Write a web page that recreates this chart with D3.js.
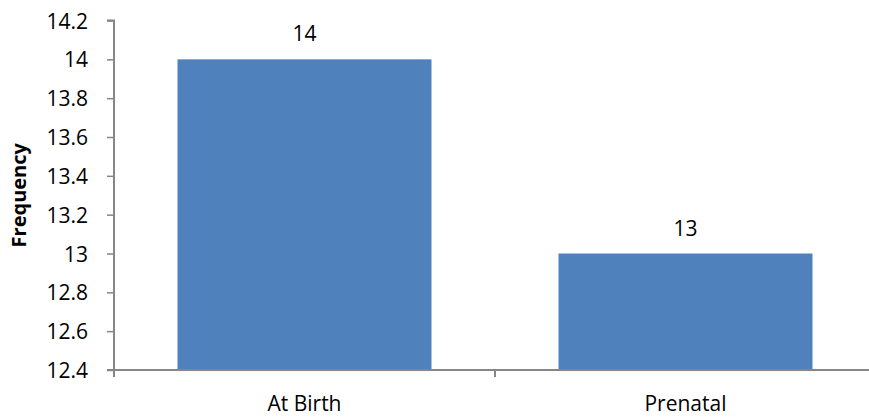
<!DOCTYPE html>
<html><head><meta charset="utf-8">
<script src="https://cdn.jsdelivr.net/npm/d3@7"></script>
<style>body{margin:0;background:#fff}svg{display:block}text{font-family:"Open Sans","Liberation Sans",sans-serif}</style>
</head><body><svg width="869" height="417"></svg>
<script>
const categories = ["At Birth", "Prenatal"];
const values = [14, 13];
const yTicks = [12.4, 12.6, 12.8, 13, 13.2, 13.4, 13.6, 13.8, 14, 14.2];
const yTitle = "Frequency";

const svg = d3.select("svg");
const x0 = 114, x1 = 876, yTop = 20.5, yBot = 370;
const x = d3.scaleBand().domain(categories).range([x0, x1]).paddingInner(1/3).paddingOuter(1/6);
const y = d3.scaleLinear().domain([12.4, 14.2]).range([yBot, yTop]);
const axisColor = "#868686";
const fs = "21px";

// bars
svg.selectAll("rect.bar").data(values).join("rect")
  .attr("x", (d, i) => x(categories[i])).attr("width", x.bandwidth())
  .attr("y", d => y(d)).attr("height", d => yBot - y(d))
  .attr("fill", "#4F81BD");

// y axis
const ya = svg.append("g").attr("transform", `translate(${x0},0)`)
  .call(d3.axisLeft(y).tickValues(yTicks).tickSize(7).tickPadding(19).tickFormat(d => d3.format("")(+d.toFixed(1))));
ya.select(".domain").attr("stroke", axisColor).attr("stroke-width", 2).attr("d", `M-7,${yTop}H0V${yBot}`);
ya.selectAll(".tick line").attr("stroke", axisColor).attr("stroke-width", 1.5);
ya.selectAll(".tick text").attr("fill", "#000").attr("dy", "0.36em").style("font-size", fs).style("font-family", "'Open Sans'");

// x axis line
svg.append("line").attr("x1", x0 - 7).attr("x2", 869).attr("y1", yBot).attr("y2", yBot)
  .attr("stroke", axisColor).attr("stroke-width", 2);
// x tick marks at band boundaries
const bounds = [x0, (x(categories[0]) + x.bandwidth() + x(categories[1])) / 2];
svg.selectAll("line.xt").data(bounds).join("line")
  .attr("x1", d => d).attr("x2", d => d).attr("y1", yBot).attr("y2", yBot + 7)
  .attr("stroke", axisColor).attr("stroke-width", 2);

// x labels
svg.selectAll("text.xl").data(categories).join("text")
  .attr("x", d => x(d) + x.bandwidth() / 2).attr("y", 411)
  .attr("text-anchor", "middle").style("font-size", fs).text(d => d);

// value labels
svg.selectAll("text.vl").data(values).join("text")
  .attr("x", (d, i) => x(categories[i]) + x.bandwidth() / 2).attr("y", d => y(d) - 18)
  .attr("text-anchor", "middle").style("font-size", fs).text(d => d);

// y title
svg.append("text").attr("transform", `translate(26,${(yTop + yBot) / 2}) rotate(-90)`)
  .attr("text-anchor", "middle").style("font-size", "20px").style("font-weight", "bold").text(yTitle);
</script></body></html>
